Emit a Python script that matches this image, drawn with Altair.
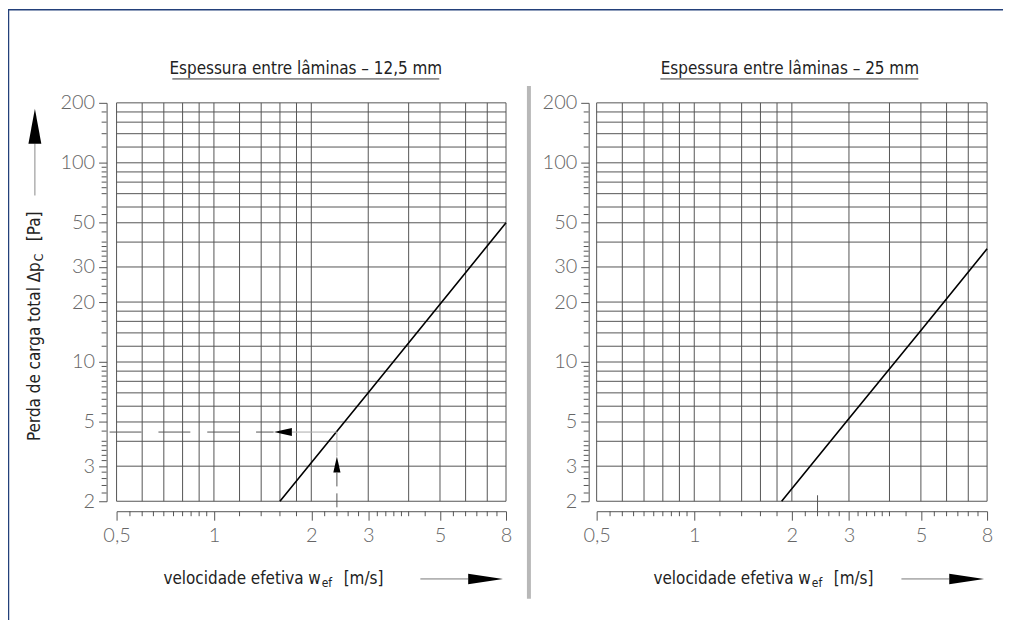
import altair as alt
import pandas as pd

# ---------------- data ----------------
grid_w = [0.5, 0.6, 0.7, 0.8, 0.9, 1, 1.2, 1.4, 1.6, 1.8, 2, 3, 4, 5, 6, 7, 8]
grid_dp = [2, 3, 4, 5, 6, 7, 8, 9, 10, 12, 14, 16, 18, 20, 30, 40, 50, 60, 70, 80,
           90, 100, 120, 140, 160, 180, 200]
x_labels = [0.5, 1, 2, 3, 5, 8]
x_minor = [0.55, 0.6, 0.65, 0.7, 0.75, 0.8, 0.85, 0.9, 0.95, 1.2, 1.4, 1.6, 1.8,
           2.2, 2.4, 2.6, 2.8, 3.2, 3.4, 3.6, 3.8, 4, 4.5, 5.5, 6, 6.5, 7, 7.5]
y_labels = [2, 3, 5, 10, 20, 30, 50, 100, 200]
y_minor = [2.2, 2.4, 2.6, 2.8, 3.2, 3.4, 3.6, 3.8, 4, 4.5, 5.5, 6, 6.5, 7, 7.5, 8,
           8.5, 9, 9.5, 12, 14, 16, 18, 22, 24, 26, 28, 32, 34, 36, 38, 40, 45,
           55, 60, 70, 75, 80, 85, 90, 95, 120, 140, 160, 180]

left_w = [1.6, 3.0, 5.0, 8.0]
left_dp = [2.0, 7.0, 19.5, 50.0]
right_w = [1.86, 3.0, 5.0, 8.0]
right_dp = [2.0, 5.2, 14.4, 37.0]

read_w = 2.4       # example reading: velocity
read_dp = 4.45     # example reading: pressure drop

title_left = "Espessura entre lâminas – 12,5 mm"
title_right = "Espessura entre lâminas – 25 mm"
x_title_main = "velocidade efetiva w"
x_title_sub = "ef"
x_title_unit = "[m/s]"
y_title_main = "Perda de carga total Δp"
y_title_sub = "C"
y_title_unit = "[Pa]"

# ---------------- styling ----------------
W, H = 874, 400
PW = 391
RX0 = 482
GRID = "#555555"
NUMFONT = "Lato"
TXTFONT = "Liberation Sans Narrow, DejaVu Sans Condensed, sans-serif"


def one(v):
    return pd.DataFrame({"t": [v]})


def text_layer(txt, x, y, size=17, align="center", angle=0, color="#222222", baseline="middle"):
    kw = dict(font=TXTFONT, fontSize=size, align=align, baseline=baseline, color=color)
    if angle:
        kw["angle"] = angle
    return alt.Chart(one(txt)).mark_text(**kw).encode(
        text="t:N", x=alt.value(x), y=alt.value(y))


def pix_rule(x, x2, y, y2, color, width=1, dash=None):
    kw = dict(color=color, strokeWidth=width)
    if dash:
        kw["strokeDash"] = dash
    return alt.Chart(one(0)).mark_rule(**kw).encode(
        x=alt.value(x), x2=alt.value(x2), y=alt.value(y), y2=alt.value(y2))


def tri(shape, size, x, y):
    return alt.Chart(one(0)).mark_point(
        shape=shape, size=size, filled=True, color="black", opacity=1, strokeWidth=0
    ).encode(x=alt.value(x), y=alt.value(y))


def panel(rng, yoff, title, tcenter, uline, line_w, line_dp, xt_right, arrow_l):
    xs = lambda: alt.Scale(type="log", domain=[0.5, 8], nice=False, zero=False, range=rng)
    ys = lambda: alt.Scale(type="log", domain=[2, 200], nice=False, zero=False)
    common = dict(tickColor=GRID, domainColor=GRID, grid=False, title=None,
                  labelFont=NUMFONT, labelFontSize=20, labelFontWeight=300,
                  labelColor="#666666", labelFlush=False, labelOverlap=False,
                  labelBound=False)
    xaxis = alt.Axis(orient="bottom", offset=10, values=x_labels, tickSize=9,
                     labelExpr="replace(format(datum.value, '~g'), '.', ',')",
                     labelPadding=5, **common)
    yaxis = alt.Axis(orient="left", offset=yoff, values=y_labels, tickSize=8,
                     labelExpr="format(datum.value, '~g')", labelPadding=4, **common)
    layers = []
    layers.append(alt.Chart(pd.DataFrame({"w": grid_w})).mark_rule(
        color=GRID, strokeWidth=1).encode(x=alt.X("w:Q", scale=xs(), axis=xaxis)))
    layers.append(alt.Chart(pd.DataFrame({"dp": grid_dp})).mark_rule(
        color=GRID, strokeWidth=1).encode(
        y=alt.Y("dp:Q", scale=ys(), axis=yaxis),
        x=alt.XDatum(0.5, type="quantitative", scale=xs(), axis=None),
        x2=alt.X2Datum(8)))
    axline = -yoff
    layers.append(alt.Chart(pd.DataFrame({"w": x_minor})).mark_rule(color=GRID).encode(
        x=alt.X("w:Q", scale=xs(), axis=None), y=alt.value(H + 10), y2=alt.value(H + 15)))
    layers.append(alt.Chart(pd.DataFrame({"dp": y_minor})).mark_rule(color=GRID).encode(
        y=alt.Y("dp:Q", scale=ys(), axis=None), x=alt.value(axline), x2=alt.value(axline - 5)))
    layers.append(alt.Chart(pd.DataFrame({"w": line_w, "dp": line_dp})).mark_line(
        color="black", strokeWidth=1.6).encode(
        x=alt.X("w:Q", scale=xs(), axis=None), y=alt.Y("dp:Q", scale=ys(), axis=None)))
    # panel title with underline
    layers.append(text_layer(title, tcenter, -29, size=17, baseline="alphabetic"))
    layers.append(pix_rule(uline[0], uline[1], -24, -24, "#333333", 1))
    # x title
    layers.append(text_layer(x_title_main, xt_right, 478, align="right"))
    layers.append(text_layer(x_title_sub, xt_right + 1, 482, size=12, align="left"))
    layers.append(text_layer(x_title_unit, xt_right + 23, 478, align="left"))
    layers.append(pix_rule(arrow_l, arrow_l + 48, 478, 478, "#777777", 1))
    layers.append(tri("M1,0L-1,-0.3L-1,0.3Z", 1225, arrow_l + 65.5, 478))
    return layers, xs, ys


left_layers, lxs, lys = panel([0, PW], 10, title_left, 190, (56, 324), left_w, left_dp, 205, 305)
right_layers, rxs, rys = panel([RX0, W], -(RX0 - 8), title_right, 676, (546, 805),
                               right_w, right_dp, 697, 788)

# reading example in the left panel (dashed helper lines and arrows)
ann = [
    alt.Chart(pd.DataFrame({"a": [0.476], "b": [1.53], "dp": [read_dp]})).mark_rule(
        color=GRID, strokeDash=[32, 17]).encode(
        x=alt.X("a:Q", scale=lxs(), axis=None), x2="b:Q", y=alt.Y("dp:Q", scale=lys(), axis=None)),
    alt.Chart(pd.DataFrame({"a": [1.74], "b": [read_w], "dp": [read_dp]})).mark_rule(
        color="#aaaaaa").encode(
        x=alt.X("a:Q", scale=lxs(), axis=None), x2="b:Q", y=alt.Y("dp:Q", scale=lys(), axis=None)),
    alt.Chart(pd.DataFrame({"w": [1.634], "dp": [read_dp]})).mark_point(
        shape="M-1,0L1,-0.45L1,0.45Z", size=324, filled=True, color="black",
        opacity=1, strokeWidth=0).encode(
        x=alt.X("w:Q", scale=lxs(), axis=None), y=alt.Y("dp:Q", scale=lys(), axis=None)),
    alt.Chart(pd.DataFrame({"w": [read_w], "a": [read_dp], "b": [3.36]})).mark_rule(
        color="#aaaaaa").encode(
        x=alt.X("w:Q", scale=lxs(), axis=None), y=alt.Y("a:Q", scale=lys(), axis=None), y2="b:Q"),
    alt.Chart(pd.DataFrame({"w": [read_w], "dp": [3.06]})).mark_point(
        shape="M0,-1L-0.45,1L0.45,1Z", size=256, filled=True, color="black",
        opacity=1, strokeWidth=0).encode(
        x=alt.X("w:Q", scale=lxs(), axis=None), y=alt.Y("dp:Q", scale=lys(), axis=None)),
    alt.Chart(pd.DataFrame({"w": [read_w], "a": [2.79], "b": [1.78]})).mark_rule(
        color=GRID, strokeDash=[14, 7]).encode(
        x=alt.X("w:Q", scale=lxs(), axis=None), y=alt.Y("a:Q", scale=lys(), axis=None), y2="b:Q"),
    alt.Chart(pd.DataFrame({"w": [read_w]})).mark_rule(color=GRID).encode(
        x=alt.X("w:Q", scale=rxs(), axis=None), y=alt.value(394), y2=alt.value(411)),
]

deco = [
    # y-axis title (rotated) with arrow
    text_layer(y_title_main, -82, 160, align="right", angle=270),
    text_layer(y_title_sub, -78, 159, size=12, align="left", angle=270),
    text_layer(y_title_unit, -82, 124, align="center", angle=270),
    pix_rule(-82, -82, 41, 93, "#888888", 1),
    tri("M0,-1L-0.37,1L0.37,1Z", 1225, -82, 23.5),
    # separator between the panels
    pix_rule(414, 414, -17, 498, "#b8b8b8", 4),
    # frame
    pix_rule(-108.5, -108.5, -94, 520, "#23407a", 1.5),
    pix_rule(-109, 890, -93.5, -93.5, "#23407a", 1.5),
]

chart = alt.layer(*left_layers, *right_layers, *ann, *deco).resolve_scale(
    x="independent", y="independent"
).properties(
    width=W, height=H,
    autosize=alt.AutoSizeParams(type="none"),
    padding={"left": 109, "top": 94, "right": 20, "bottom": 118},
    background="white",
).configure_view(stroke="transparent")

chart.save("out.html", embed_options={"renderer": "svg", "actions": False})
